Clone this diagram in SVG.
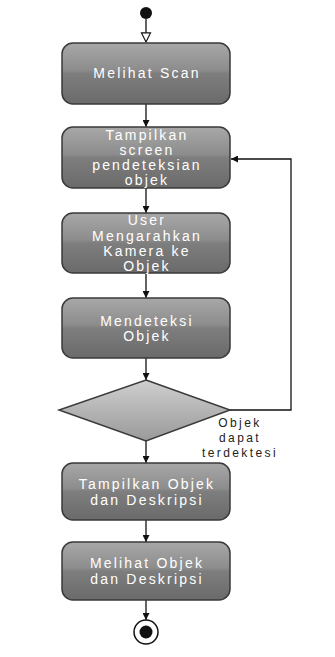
<svg xmlns="http://www.w3.org/2000/svg" width="335" height="657" viewBox="0 0 335 657">
<defs>
<linearGradient id="boxg" x1="0" y1="0" x2="0" y2="1">
<stop offset="0" stop-color="#a8a8a8"/>
<stop offset="0.45" stop-color="#8c8c8c"/>
<stop offset="0.5" stop-color="#7e7e7e"/>
<stop offset="1" stop-color="#6a6a6a"/>
</linearGradient>
<linearGradient id="diag" x1="0" y1="0" x2="0" y2="1">
<stop offset="0" stop-color="#cfcfcf"/>
<stop offset="0.5" stop-color="#b4b4b4"/>
<stop offset="1" stop-color="#9a9a9a"/>
</linearGradient>
<marker id="arr" viewBox="0 0 10 10" refX="10" refY="5" markerWidth="7" markerHeight="7" orient="auto" markerUnits="userSpaceOnUse">
<path d="M0,0 L10,5 L0,10 z" fill="#111"/>
</marker>
<marker id="open" viewBox="0 0 12 12" refX="11" refY="6" markerWidth="11" markerHeight="13" orient="auto" markerUnits="userSpaceOnUse">
<path d="M1,1 L11,6 L1,11 z" fill="#fff" stroke="#111" stroke-width="1.2"/>
</marker>
</defs>
<style>
.box{fill:url(#boxg);stroke:#3a3a3a;stroke-width:1.5}
.t{font-family:"Liberation Sans",Arial,sans-serif;font-size:14px;fill:#fff;text-anchor:middle;letter-spacing:2.2px}
.lbl{font-family:"Liberation Sans",Arial,sans-serif;font-size:12px;fill:#222;text-anchor:middle;letter-spacing:2.4px}
.c{fill:none;stroke:#111;stroke-width:1.3}
</style>
<rect width="335" height="657" fill="#fff"/>
<g id="connectors">
<line class="c" x1="146" y1="19" x2="146" y2="42" marker-end="url(#open)"/>
<line class="c" x1="146" y1="104" x2="146" y2="127" marker-end="url(#arr)"/>
<line class="c" x1="146" y1="188" x2="146" y2="213" marker-end="url(#arr)"/>
<line class="c" x1="146" y1="273" x2="146" y2="298" marker-end="url(#arr)"/>
<line class="c" x1="146" y1="358" x2="146" y2="380" marker-end="url(#arr)"/>
<line class="c" x1="146" y1="441" x2="146" y2="463" marker-end="url(#arr)"/>
<line class="c" x1="146" y1="520" x2="146" y2="542" marker-end="url(#arr)"/>
<line class="c" x1="146" y1="600" x2="146" y2="620" marker-end="url(#arr)"/>
<path class="c" d="M230,410 H291 V159 H231" marker-end="url(#arr)"/>
<text class="lbl" x="240" y="427">Objek</text>
<text class="lbl" x="240" y="442">dapat</text>
<text class="lbl" x="240" y="457">terdektesi</text>
</g>
<g id="start">
<circle cx="146" cy="13" r="6" fill="#111"/>
</g>
<g id="n1">
<rect class="box" x="62" y="43" width="168" height="61" rx="11"/>
<text class="t" x="147" y="78">Melihat Scan</text>
</g>
<g id="n2">
<rect class="box" x="62" y="127" width="168" height="61" rx="11"/>
<text class="t" x="147" y="140">Tampilkan</text>
<text class="t" x="147" y="155">screen</text>
<text class="t" x="147" y="170">pendeteksian</text>
<text class="t" x="147" y="185">objek</text>
</g>
<g id="n3">
<rect class="box" x="62" y="213" width="168" height="60" rx="11"/>
<text class="t" x="147" y="225">User</text>
<text class="t" x="147" y="241">Mengarahkan</text>
<text class="t" x="147" y="256">Kamera ke</text>
<text class="t" x="147" y="271">Objek</text>
</g>
<g id="n4">
<rect class="box" x="62" y="298" width="168" height="60" rx="11"/>
<text class="t" x="147" y="326">Mendeteksi</text>
<text class="t" x="147" y="341">Objek</text>
</g>
<g id="decision">
<polygon points="146,380 230,410 146,441 59,410" fill="url(#diag)" stroke="#3a3a3a" stroke-width="1.5"/>
</g>
<g id="n5">
<rect class="box" x="62" y="463" width="168" height="57" rx="11"/>
<text class="t" x="147" y="489">Tampilkan Objek</text>
<text class="t" x="147" y="505">dan Deskripsi</text>
</g>
<g id="n6">
<rect class="box" x="62" y="542" width="168" height="58" rx="11"/>
<text class="t" x="147" y="568">Melihat Objek</text>
<text class="t" x="147" y="584">dan Deskripsi</text>
</g>
<g id="end">
<circle cx="146" cy="632" r="12" fill="#fff" stroke="#111" stroke-width="1.5"/>
<circle cx="146" cy="632" r="6.5" fill="#111"/>
</g>
</svg>
